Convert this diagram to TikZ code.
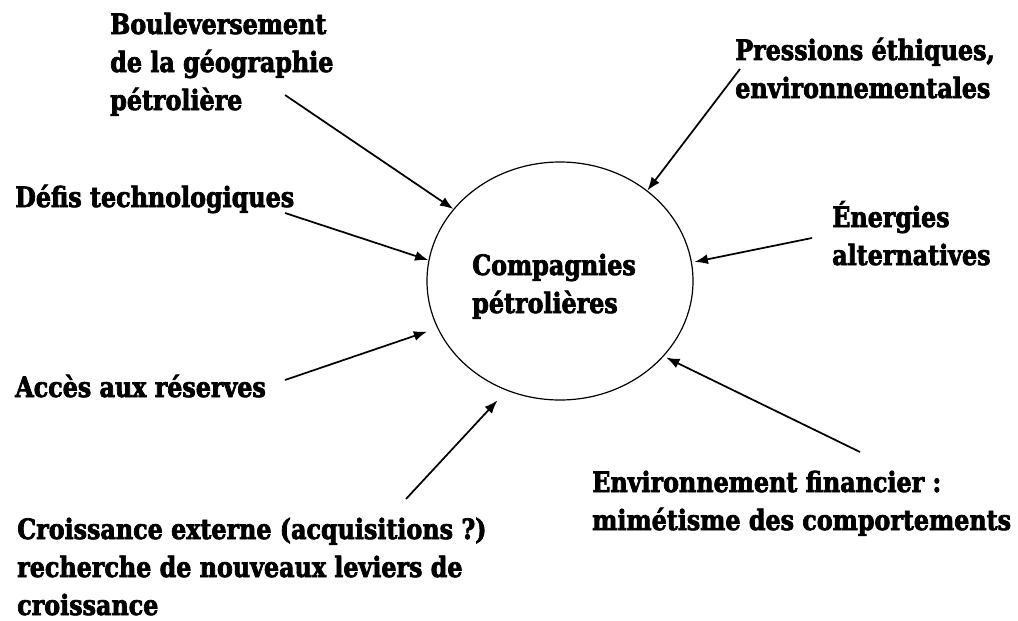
\documentclass[tikz,border=0pt]{standalone}
\usepackage{fontspec}
\setmainfont{DejaVu Serif}[FakeStretch=0.85, BoldFeatures={FakeBold=2.5}]
\usetikzlibrary{arrows.meta,shapes.geometric}
\newcommand\lblfont{\bfseries\fontsize{21}{28.5}\selectfont}
\begin{document}
\begin{tikzpicture}[x=0.75pt,y=-0.75pt,
  lbl/.style={anchor=base west, inner sep=0pt, align=left, font=\lblfont},
  conn/.style={line width=1.3pt, -{Latex[length=10pt,width=7.5pt]}},
  hub/.style={draw, ellipse, line width=0.9pt, inner sep=0pt, minimum width=199.5pt, minimum height=178.5pt}]
\useasboundingbox (0,0) rectangle (1018,621);
% central node
\node[hub] (c) at (560,281) {};
\node[lbl] (ct) at (472,313) {Compagnies\\pétrolières};
% labels (anchored at the baseline of their last line)
\node[lbl] (t1) at (110,110) {Bouleversement\\de la géographie\\pétrolière};
\node[lbl] (t2) at (15,207) {Défis technologiques};
\node[lbl] (t3) at (15,397) {Accès aux réserves};
\node[lbl] (t4) at (17,615) {Croissance externe (acquisitions ?)\\recherche de nouveaux leviers de\\croissance};
\node[lbl] (t5) at (735,98) {Pressions éthiques,\\environnementales};
\node[lbl] (t6) at (832,265) {Énergies\\alternatives};
\node[lbl] (t7) at (592,530) {Environnement financier :\\mimétisme des comportements};
% free ends of connectors
\coordinate (s1) at (285,95);
\coordinate (s2) at (285,213);
\coordinate (s3) at (285,380);
\coordinate (s4) at (406,499);
\coordinate (s5) at (740,69);
\coordinate (s6) at (812,238);
\coordinate (s7) at (860,452);
% connectors
\draw[conn] (s1) -- (c.146.4);
\draw[conn] (s2) -- (c.171.3);
\draw[conn, shorten >=8pt] (s3) -- (c.201.5);
\draw[conn, shorten >=10pt] (s4) -- (c.244.6);
\draw[conn] (s5) -- (c.46.6);
\draw[conn, shorten >=2pt] (s6) -- (c.8.8);
\draw[conn, shorten >=2pt] (s7) -- (c.324.6);
\end{tikzpicture}
\end{document}
